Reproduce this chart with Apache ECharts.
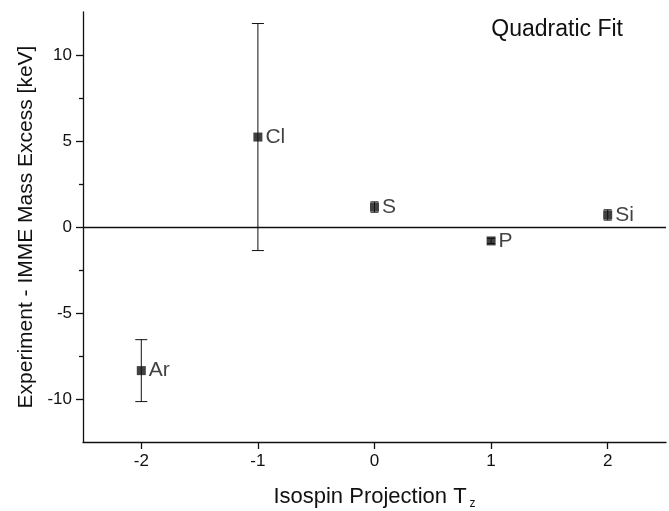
<!DOCTYPE html>
<html>
<head>
<meta charset="utf-8">
<script src="https://cdn.jsdelivr.net/npm/echarts@6/dist/echarts.min.js"></script>
<style>
  html, body { margin: 0; padding: 0; background: #fff; }
  #chart { width: 669px; height: 511px; }
</style>
</head>
<body>
<div id="chart"></div>
<script>
var tz = [-2, -1, 0, 1, 2];
var nuclei = ['Ar', 'Cl', 'S', 'P', 'Si'];
var deviation = [-8.35, 5.23, 1.16, -0.81, 0.7];
var uncertainty = [1.8, 6.6, 0.3, 0.15, 0.3];
var xTicks = [-2, -1, 0, 1, 2];
var yTicks = [-10, -5, 0, 5, 10];
var yMinorTicks = [-7.5, -2.5, 2.5, 7.5];

var points = tz.map(function (x, i) { return [x, deviation[i], nuclei[i]]; });
var bars = tz.map(function (x, i) {
    return [x, deviation[i] - uncertainty[i], deviation[i] + uncertainty[i]];
});

var ink = '#111';
var font = 'Liberation Sans, Arial, sans-serif';

var myChart = echarts.init(document.getElementById('chart'));
var option = {
    animation: false,
    title: {
        text: 'Quadratic Fit',
        right: 41,
        top: 13,
        textStyle: { fontFamily: font, fontSize: 23, fontWeight: 'normal', color: ink }
    },
    grid: { left: 83, right: 3, top: 12, bottom: 69, outerBoundsMode: 'none', containLabel: false },
    xAxis: {
        type: 'value',
        min: -2.5,
        max: 2.5,
        name: 'Isospin Projection T{sub|z}',
        nameLocation: 'middle',
        nameGap: 42,
        nameTextStyle: {
            fontFamily: font, fontSize: 22, color: ink,
            rich: { sub: { fontFamily: font, fontSize: 12, color: ink, verticalAlign: 'bottom', padding: [14, 0, 0, 3] } }
        },
        axisLine: { onZero: false, lineStyle: { color: ink, width: 1.3 } },
        axisTick: { length: 7, lineStyle: { color: ink, width: 1.3 }, customValues: xTicks },
        axisLabel: { fontFamily: font, fontSize: 17, color: ink, margin: 11, customValues: xTicks },
        splitLine: { show: false }
    },
    yAxis: [{
        type: 'value',
        min: -12.5,
        max: 12.5,
        name: 'Experiment - IMME Mass Excess [keV]',
        nameLocation: 'middle',
        nameGap: 40,
        nameTextStyle: { fontFamily: font, fontSize: 21, color: ink },
        axisLine: { show: true, onZero: false, lineStyle: { color: ink, width: 1.3 } },
        axisTick: { length: 7, lineStyle: { color: ink, width: 1.3 }, customValues: yTicks },
        axisLabel: { fontFamily: font, fontSize: 17, color: ink, margin: 11, customValues: yTicks },
        splitLine: { show: false }
    }, {
        type: 'value',
        position: 'left',
        min: -12.5,
        max: 12.5,
        axisLine: { show: false, onZero: false },
        axisTick: { length: 4, lineStyle: { color: ink, width: 1.3 }, customValues: yMinorTicks },
        axisLabel: { show: false },
        splitLine: { show: false }
    }],
    series: [{
        type: 'custom',
        data: bars,
        z: 2,
        renderItem: function (params, api) {
            var x = api.value(0);
            var lo = api.coord([x, api.value(1)]);
            var hi = api.coord([x, api.value(2)]);
            // short bars hide their caps under the marker
            var w = (lo[1] - hi[1]) > 14 ? 6 : 4;
            var st = { stroke: ink, lineWidth: 1 };
            return {
                type: 'group',
                children: [
                    { type: 'line', shape: { x1: lo[0], y1: lo[1], x2: hi[0], y2: hi[1] }, style: st },
                    { type: 'line', shape: { x1: lo[0] - w, y1: lo[1], x2: lo[0] + w, y2: lo[1] }, style: st },
                    { type: 'line', shape: { x1: hi[0] - w, y1: hi[1], x2: hi[0] + w, y2: hi[1] }, style: st }
                ]
            };
        }
    }, {
        type: 'scatter',
        data: points,
        z: 3,
        symbol: 'rect',
        symbolSize: 9,
        itemStyle: { color: ink },
        label: {
            show: true,
            position: 'right',
            distance: 3,
            formatter: function (p) { return p.value[2]; },
            fontFamily: font,
            fontSize: 21,
            color: ink
        },
        markLine: {
            silent: true,
            symbol: 'none',
            label: { show: false },
            lineStyle: { color: ink, width: 1.3, type: 'solid' },
            data: [{ yAxis: 0 }]
        }
    }]
};
myChart.setOption(option);
</script>
</body>
</html>
